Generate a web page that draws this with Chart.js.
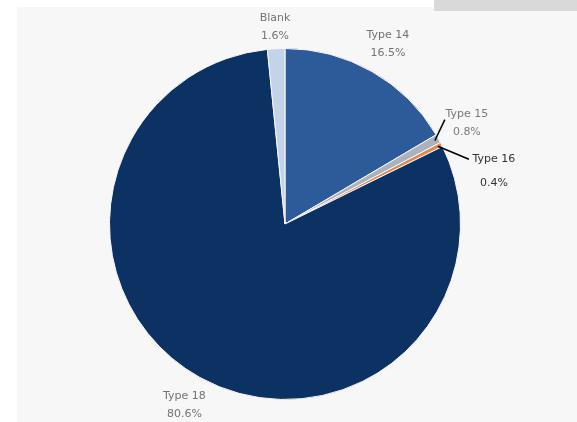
<!DOCTYPE html>
<html>
<head>
<meta charset="utf-8">
<script src="https://cdn.jsdelivr.net/npm/chart.js@4"></script>
<style>
  html, body { margin: 0; padding: 0; background: #ffffff; }
  #panel { position: absolute; left: 17px; top: 7px; width: 560px; height: 415px; background: #f7f7f7; }
  #tab { position: absolute; left: 434px; top: 0; width: 143px; height: 11px; background: #d9d9d9; }
  #wrap { position: absolute; left: 0; top: 0; width: 577px; height: 422px; }
</style>
</head>
<body>
<div id="panel"></div>
<div id="tab"></div>
<div id="wrap"><canvas id="pieChart"></canvas></div>
<script>
// datos del gráfico
var categorias = ['Type 14', 'Type 15', 'Type 16', 'Type 18', 'Blank'];
var porcentajes = [16.5, 0.8, 0.4, 80.6, 1.6];
var etiquetas = ['16.5%', '0.8%', '0.4%', '80.6%', '1.6%'];

var colores = ['#2d5a98', '#aab2be', '#e0894f', '#0b3262', '#c3d3e8'];

// donde va cada etiqueta: radial o con línea guía
var colocacion = [
    { modo: 'radial', extra: 32 },
    { modo: 'guia', dx: 10, dy: -21, tx: 22, ty1: -5, ty2: 13, color: '#7a7a7a' },
    { modo: 'guia', dx: 31, dy: 13, tx: 25, ty1: 0, ty2: 24, color: '#333333' },
    { modo: 'radial', extra: 32 },
    { modo: 'radial', extra: 22 }
];

var etiquetasPlugin = {
    id: 'etiquetasPie',
    afterDatasetsDraw: function(chart) {
        var ctx = chart.ctx;
        var meta = chart.getDatasetMeta(0);
        ctx.save();
        ctx.font = '11px "DejaVu Sans", sans-serif';
        ctx.textAlign = 'center';
        ctx.textBaseline = 'middle';
        meta.data.forEach(function(arc, i) {
            var p = arc.getProps(['x', 'y', 'startAngle', 'endAngle', 'outerRadius'], true);
            var a = (p.startAngle + p.endAngle) / 2;
            var c = colocacion[i];
            if (c.modo === 'radial') {
                var r = p.outerRadius + c.extra;
                var cx = p.x + Math.cos(a) * r;
                var cy = p.y + Math.sin(a) * r;
                ctx.fillStyle = '#737373';
                ctx.fillText(categorias[i], cx, cy - 9);
                ctx.fillText(etiquetas[i], cx, cy + 9);
            } else {
                var ex = p.x + Math.cos(a) * (p.outerRadius - 4);
                var ey = p.y + Math.sin(a) * (p.outerRadius - 4);
                var lx = ex + c.dx, ly = ey + c.dy;
                ctx.strokeStyle = '#000000';
                ctx.lineWidth = 1.5;
                ctx.beginPath();
                ctx.moveTo(ex, ey);
                ctx.lineTo(lx, ly);
                ctx.stroke();
                ctx.fillStyle = c.color;
                ctx.fillText(categorias[i], lx + c.tx, ly + c.ty1);
                ctx.fillText(etiquetas[i], lx + c.tx, ly + c.ty2);
            }
        });
        ctx.restore();
    }
};

var ctx = document.getElementById('pieChart').getContext('2d');

var config = {
    type: 'pie',
    data: {
        labels: categorias,
        datasets: [{
            data: porcentajes,
            backgroundColor: colores,
            borderColor: '#f7f7f7',
            borderWidth: 1
        }]
    },
    options: {
        responsive: true,
        maintainAspectRatio: false,
        animation: false,
        layout: { padding: { top: 48, bottom: 22, left: 100, right: 107 } },
        plugins: {
            legend: { display: false },
            tooltip: { enabled: false }
        }
    },
    plugins: [etiquetasPlugin]
};

var myChart = new Chart(ctx, config);
</script>
</body>
</html>
